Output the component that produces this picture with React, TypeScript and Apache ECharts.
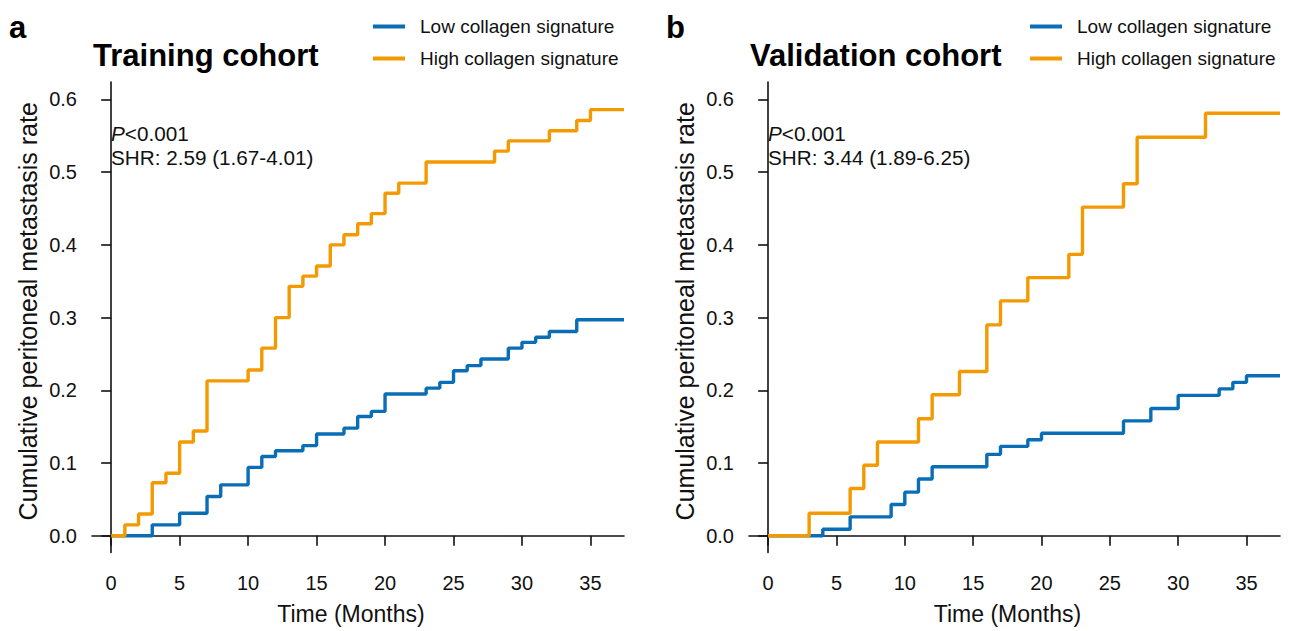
import React, { useEffect, useRef } from "react";
import * as echarts from "echarts";

const SERIES_NAMES = ["Low collagen signature", "High collagen signature"];
const PANEL_TITLES = ["Training cohort", "Validation cohort"];
const PANEL_LETTERS = ["a", "b"];
const P_TEXT = ["<0.001", "<0.001"];
const SHR_TEXT = ["SHR: 2.59 (1.67-4.01)", "SHR: 3.44 (1.89-6.25)"];
const X_TICKS = [0, 5, 10, 15, 20, 25, 30, 35];
const Y_TICKS = [0, 0.1, 0.2, 0.3, 0.4, 0.5, 0.6];

// Training cohort
const trainLowTime = [0, 3, 5, 7, 8, 10, 11, 12, 14, 15, 17, 18, 19, 20, 23, 24, 25, 26, 27, 29, 30, 31, 32, 34, 37.45];
const trainLowRate = [0, 0.015, 0.031, 0.054, 0.07, 0.094, 0.109, 0.117, 0.124, 0.14, 0.148, 0.164, 0.171, 0.195, 0.203, 0.211, 0.227, 0.234, 0.243, 0.258, 0.266, 0.273, 0.281, 0.297, 0.297];
const trainHighTime = [0, 1, 2, 3, 4, 5, 6, 7, 10, 11, 12, 13, 14, 15, 16, 17, 18, 19, 20, 21, 23, 28, 29, 32, 34, 35, 37.45];
const trainHighRate = [0, 0.015, 0.03, 0.073, 0.086, 0.129, 0.144, 0.213, 0.228, 0.258, 0.3, 0.343, 0.357, 0.371, 0.4, 0.414, 0.429, 0.443, 0.471, 0.485, 0.514, 0.529, 0.543, 0.557, 0.571, 0.586, 0.586];

// Validation cohort
const validLowTime = [0, 4, 6, 9, 10, 11, 12, 16, 17, 19, 20, 26, 28, 30, 33, 34, 35, 37.45];
const validLowRate = [0, 0.009, 0.026, 0.043, 0.06, 0.078, 0.095, 0.112, 0.123, 0.132, 0.141, 0.158, 0.175, 0.193, 0.202, 0.211, 0.22, 0.22];
const validHighTime = [0, 3, 6, 7, 8, 11, 12, 14, 16, 17, 19, 22, 23, 26, 27, 32, 37.45];
const validHighRate = [0, 0.031, 0.065, 0.097, 0.129, 0.161, 0.194, 0.226, 0.29, 0.323, 0.355, 0.387, 0.452, 0.484, 0.548, 0.581, 0.581];

const COLORS = ["#0a6eb6", "#f39a00"];
const FONT = "Liberation Sans, Arial, Helvetica, sans-serif";

const zip = (t: number[], v: number[]) => t.map((x, i) => [x, v[i]]);

export default function App() {
  const ref = useRef<HTMLDivElement>(null);
  useEffect(() => {
    if (!ref.current) return;
    const chart = echarts.init(ref.current, undefined, { renderer: "svg" });
    const grids = [
      { left: 92, top: 82, width: 532, height: 470.5 },
      { left: 749, top: 82, width: 531, height: 470.5 },
    ];
    const xAxes = grids.map((_, i) => ({
      type: "value",
      gridIndex: i,
      min: -1.4,
      max: 37.45,
      name: "Time (Months)",
      nameLocation: "middle",
      nameGap: 50,
      nameTextStyle: { fontSize: 23, color: "#111", fontFamily: FONT, padding: [0, 14, 0, 0] },
      axisLine: { show: true, lineStyle: { color: "#111", width: 1.6 } },
      axisTick: { show: true, length: 10, lineStyle: { color: "#111", width: 1.6 }, customValues: X_TICKS },
      axisLabel: { fontSize: 20, color: "#111", fontFamily: FONT, margin: 20, customValues: X_TICKS },
      splitLine: { show: false },
    }));
    const yAxes = grids.map((_, i) => ({
      type: "value",
      gridIndex: i,
      min: -0.023,
      max: 0.624,
      name: "Cumulative peritoneal metastasis rate",
      nameLocation: "middle",
      nameGap: 52,
      nameTextStyle: { fontSize: 25, color: "#111", fontFamily: FONT, padding: [0, 0, 0, 12] },
      axisLine: { show: true, lineStyle: { color: "#111", width: 1.6 } },
      axisTick: { show: true, length: 10, lineStyle: { color: "#111", width: 1.6 }, customValues: Y_TICKS },
      axisLabel: {
        fontSize: 20,
        color: "#111",
        fontFamily: FONT,
        margin: 15,
        customValues: Y_TICKS,
        formatter: (v: number) => v.toFixed(1),
      },
      splitLine: { show: false },
    }));
    const mk = (name: string, color: string, idx: number, t: number[], v: number[]) => ({
      name,
      type: "line",
      step: "end",
      xAxisIndex: idx,
      yAxisIndex: idx,
      data: zip(t, v),
      showSymbol: false,
      symbol: "none",
      lineStyle: { color, width: 3.4 },
      itemStyle: { color },
      z: 3,
    });
    const series = [
      mk(SERIES_NAMES[0], COLORS[0], 0, trainLowTime, trainLowRate),
      mk(SERIES_NAMES[1], COLORS[1], 0, trainHighTime, trainHighRate),
      mk(SERIES_NAMES[0], COLORS[0], 1, validLowTime, validLowRate),
      mk(SERIES_NAMES[1], COLORS[1], 1, validHighTime, validHighRate),
    ];
    const legendBase = {
      orient: "vertical",
      top: 17,
      padding: 0,
      itemWidth: 32,
      itemHeight: 4,
      itemGap: 13,
      icon: "rect",
      textStyle: { fontSize: 19, color: "#111", fontFamily: FONT, padding: [0, 0, 0, 10] },
      data: SERIES_NAMES,
    };
    const titles: any[] = [];
    PANEL_TITLES.forEach((t, i) => {
      titles.push({
        text: t,
        left: [93, 750][i],
        top: 40,
        padding: 0,
        textStyle: { fontSize: 31, fontWeight: "bold", color: "#000", fontFamily: FONT },
      });
      titles.push({
        text: PANEL_LETTERS[i],
        left: [9, 666][i],
        top: 12,
        padding: 0,
        textStyle: { fontSize: 31, fontWeight: "bold", color: "#000", fontFamily: FONT },
      });
    });
    const graphics = [0, 1].map((i) => ({
      type: "text",
      left: [111, 768][i],
      top: 121,
      style: {
        text: `{i|P}${P_TEXT[i]}\n${SHR_TEXT[i]}`,
        fontSize: 20.7,
        lineHeight: 24,
        fill: "#111",
        fontFamily: FONT,
        rich: { i: { fontStyle: "italic", fontSize: 20.7, fontFamily: FONT, fill: "#111" } },
      },
    }));
    chart.setOption({
      animation: false,
      backgroundColor: "#fff",
      title: titles,
      legend: [
        { ...legendBase, left: 373 },
        { ...legendBase, left: 1030 },
      ],
      grid: grids,
      xAxis: xAxes,
      yAxis: yAxes,
      series,
      graphic: graphics,
    } as any);
    return () => chart.dispose();
  }, []);
  return (
    <div
      ref={ref}
      style={{ position: "fixed", left: 0, top: 0, width: 1301, height: 631 }}
    />
  );
}
